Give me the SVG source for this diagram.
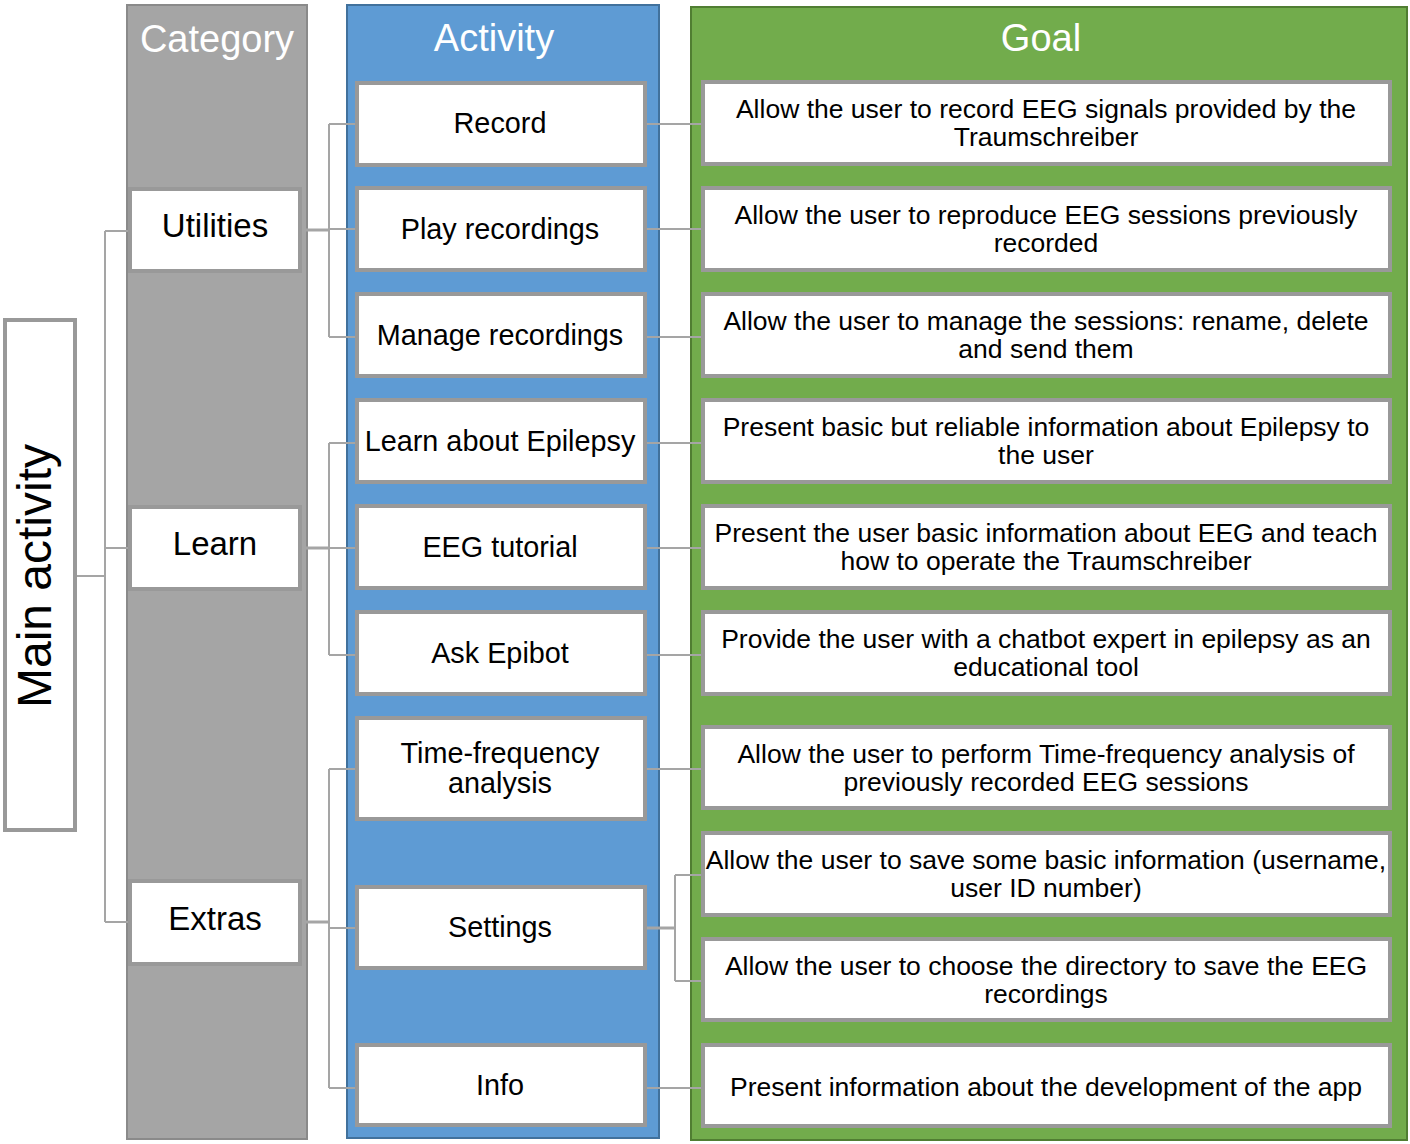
<svg xmlns="http://www.w3.org/2000/svg" width="1410" height="1144" viewBox="0 0 1410 1144">
<style>
text{font-family:"Liberation Sans",Arial,sans-serif;fill:#000;text-anchor:middle}
.hdr{font-size:38px;fill:#fff}
.cat{font-size:33px}
.act{font-size:28.8px}
.goal{font-size:26.5px}
.node{fill:#fff;stroke:#999;stroke-width:4}
.con{fill:none;stroke:#a5a5a5;stroke-width:2}
.stem{fill:none;stroke:#a5a5a5;stroke-width:3}
</style>
<rect width="1410" height="1144" fill="#fff"/>
<g id="columns">
<rect x="127" y="5" width="180" height="1134" fill="#a5a5a5" stroke="#8a8a8a" stroke-width="2"/>
<rect x="347" y="5" width="312" height="1133" fill="#5e9bd4" stroke="#41719c" stroke-width="2"/>
<rect x="691" y="7" width="716" height="1133" fill="#72ac4c" stroke="#507e32" stroke-width="2"/>
<text class="hdr" x="217" y="52">Category</text>
<text class="hdr" x="494" y="51">Activity</text>
<text class="hdr" x="1041" y="51">Goal</text>
</g>
<g id="connectors">
<path class="con" d="M77 576H105M105 231V922M105 231H130M105 548H130M105 922H130"/>
<path class="stem" d="M300 230H329M300 548H329M300 922H329"/>
<path class="con" d="M329 124V337M329 124H357M329 229H357M329 337H357"/>
<path class="con" d="M329 443V655M329 443H357M329 548H357M329 655H357"/>
<path class="con" d="M329 769V1088M329 769H357M329 928H357M329 1088H357"/>
<path class="con" d="M647 124H701M647 229H701M647 337H701M647 443H701M647 548H701M647 655H701M647 769H701M647 1088H701"/>
<path class="stem" d="M647 928H675"/>
<path class="con" d="M675 875V981M675 875H701M675 981H701"/>
</g>
<g id="main">
<rect class="node" x="5" y="320" width="70" height="510"/>
<text transform="translate(51 576) rotate(-90)" font-size="48">Main activity</text>
</g>
<g id="cat-utilities"><rect class="node" x="130" y="189" width="170" height="82"/><text class="cat" x="215" y="237">Utilities</text></g>
<g id="cat-learn"><rect class="node" x="130" y="507" width="170" height="82"/><text class="cat" x="215" y="555">Learn</text></g>
<g id="cat-extras"><rect class="node" x="130" y="881" width="170" height="83"/><text class="cat" x="215" y="930">Extras</text></g>

<g id="act-record"><rect class="node" x="357" y="83" width="288" height="82"/><text class="act" x="500" y="133">Record</text></g>
<g id="act-play"><rect class="node" x="357" y="188" width="288" height="82"/><text class="act" x="500" y="239">Play recordings</text></g>
<g id="act-manage"><rect class="node" x="357" y="294" width="288" height="82"/><text class="act" x="500" y="345">Manage recordings</text></g>
<g id="act-learn"><rect class="node" x="357" y="400" width="288" height="82"/><text class="act" x="500" y="451">Learn about Epilepsy</text></g>
<g id="act-eeg"><rect class="node" x="357" y="506" width="288" height="82"/><text class="act" x="500" y="557">EEG tutorial</text></g>
<g id="act-ask"><rect class="node" x="357" y="612" width="288" height="82"/><text class="act" x="500" y="663">Ask Epibot</text></g>
<g id="act-tf"><rect class="node" x="357" y="718" width="288" height="101"/><text class="act" x="500" y="763">Time-frequency</text><text class="act" x="500" y="793">analysis</text></g>
<g id="act-settings"><rect class="node" x="357" y="887" width="288" height="81"/><text class="act" x="500" y="937">Settings</text></g>
<g id="act-info"><rect class="node" x="357" y="1045" width="288" height="80"/><text class="act" x="500" y="1095">Info</text></g>

<g id="goal-1"><rect class="node" x="703" y="82" width="687" height="82"/><text class="goal" x="1046" y="118">Allow the user to record EEG signals provided by the</text><text class="goal" x="1046" y="146">Traumschreiber</text></g>
<g id="goal-2"><rect class="node" x="703" y="188" width="687" height="82"/><text class="goal" x="1046" y="224">Allow the user to reproduce EEG sessions previously</text><text class="goal" x="1046" y="252">recorded</text></g>
<g id="goal-3"><rect class="node" x="703" y="294" width="687" height="82"/><text class="goal" x="1046" y="330">Allow the user to manage the sessions: rename, delete</text><text class="goal" x="1046" y="358">and send them</text></g>
<g id="goal-4"><rect class="node" x="703" y="400" width="687" height="82"/><text class="goal" x="1046" y="436">Present basic but reliable information about Epilepsy to</text><text class="goal" x="1046" y="464">the user</text></g>
<g id="goal-5"><rect class="node" x="703" y="506" width="687" height="82"/><text class="goal" x="1046" y="542">Present the user basic information about EEG and teach</text><text class="goal" x="1046" y="570">how to operate the Traumschreiber</text></g>
<g id="goal-6"><rect class="node" x="703" y="612" width="687" height="82"/><text class="goal" x="1046" y="648">Provide the user with a chatbot expert in epilepsy as an</text><text class="goal" x="1046" y="676">educational tool</text></g>
<g id="goal-7"><rect class="node" x="703" y="727" width="687" height="81"/><text class="goal" x="1046" y="763">Allow the user to perform Time-frequency analysis of</text><text class="goal" x="1046" y="791">previously recorded EEG sessions</text></g>
<g id="goal-8"><rect class="node" x="703" y="833" width="687" height="82"/><text class="goal" x="1046" y="869">Allow the user to save some basic information (username,</text><text class="goal" x="1046" y="897">user ID number)</text></g>
<g id="goal-9"><rect class="node" x="703" y="939" width="687" height="81"/><text class="goal" x="1046" y="975">Allow the user to choose the directory to save the EEG</text><text class="goal" x="1046" y="1003">recordings</text></g>
<g id="goal-10"><rect class="node" x="703" y="1045" width="687" height="81"/><text class="goal" x="1046" y="1096">Present information about the development of the app</text></g>
</svg>
